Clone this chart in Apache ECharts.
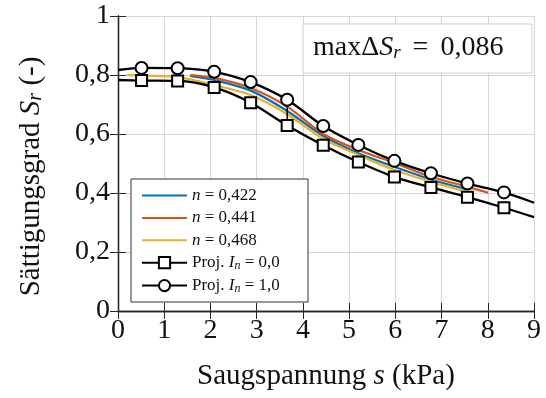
<!DOCTYPE html>
<html>
<head>
<meta charset="utf-8">
<script src="https://cdn.jsdelivr.net/npm/echarts@6/dist/echarts.min.js"></script>
<style>
html,body{margin:0;padding:0;background:#fff;}
#chart{width:546px;height:398px;}
</style>
</head>
<body>
<div id="chart"></div>
<script>
// ---- data ----
const xTicks = [0, 1, 2, 3, 4, 5, 6, 7, 8, 9];
const yTicks = [0, 0.2, 0.4, 0.6, 0.8, 1];

const seriesNames = ['n = 0,422', 'n = 0,441', 'n = 0,468', 'Proj. In = 0,0', 'Proj. In = 1,0'];
const legendRich = ['{i|n} = 0,422', '{i|n} = 0,441', '{i|n} = 0,468', 'Proj. {i|I}{sub|n} = 0,0', 'Proj. {i|I}{sub|n} = 1,0'];

const blueX = [1.56, 2.08, 2.87, 3.66, 4.44, 5.20, 5.98, 6.77, 7.50];
const blueY = [0.797, 0.783, 0.747, 0.678, 0.593, 0.535, 0.489, 0.446, 0.415];

const redX = [1.56, 2.08, 2.87, 3.66, 4.44, 5.20, 5.98, 6.77, 7.56, 8.01];
const redY = [0.800, 0.790, 0.756, 0.693, 0.600, 0.546, 0.502, 0.455, 0.421, 0.401];

const yellowX = [0.19, 0.51, 1.29, 2.08, 2.87, 3.66, 4.44, 5.20, 5.98, 6.77, 7.50];
const yellowY = [0.800, 0.798, 0.793, 0.766, 0.732, 0.667, 0.583, 0.529, 0.478, 0.438, 0.406];

const projX = [0, 0.51, 1.29, 2.08, 2.87, 3.66, 4.44, 5.20, 5.98, 6.77, 7.56, 8.35, 9];
const proj0Y = [0.783, 0.781, 0.780, 0.758, 0.706, 0.629, 0.562, 0.505, 0.454, 0.419, 0.386, 0.350, 0.318];
const proj1Y = [0.817, 0.824, 0.823, 0.811, 0.776, 0.716, 0.627, 0.563, 0.509, 0.467, 0.432, 0.402, 0.367];

const maxDeltaX = [3.66, 3.66];
const maxDeltaY = [0.629, 0.716];
const annotation = 'max{d|Δ}{i|S}{sub|r}{eq| = }0,086';

const xName = 'Saugspannung {i|s} (kPa)';
const yName = 'Sättigungsgrad {i|S}{sub|r} (-)';

// ---- build ----
const FONT = '"Liberation Serif", "Times New Roman", serif';
const colors = ['#0072BD', '#D95319', '#EDB120'];
function pairs(xs, ys) { return xs.map((x, i) => [x, ys[i]]); }
function projData(xs, ys) {
  return xs.map((x, i) => {
    const item = { value: [x, ys[i]] };
    if (i === 0 || i === xs.length - 1) item.symbol = 'none';
    return item;
  });
}

const axisLineStyle = { color: '#262626', width: 1.3 };
const tickStyle = { show: true, inside: true, length: 8, lineStyle: { color: '#262626', width: 1 } };

const chart = echarts.init(document.getElementById('chart'), null, { renderer: 'canvas' });
const option = {
  backgroundColor: '#fff',
  animation: false,
  textStyle: { fontFamily: FONT },
  grid: { left: 118, right: 12, top: 16, bottom: 87, containLabel: false },
  xAxis: [{
    type: 'value', min: xTicks[0], max: xTicks[xTicks.length - 1], interval: 1,
    position: 'bottom',
    axisLine: { show: true, lineStyle: axisLineStyle },
    axisTick: tickStyle,
    splitLine: { show: true, lineStyle: { color: '#d6d6d6', width: 1 } },
    axisLabel: { fontFamily: FONT, fontSize: 28, color: '#111', margin: 6 },
    name: xName, nameLocation: 'middle', nameGap: 51,
    nameTextStyle: { fontFamily: FONT, fontSize: 29, color: '#111',
      rich: { i: { fontFamily: FONT, fontStyle: 'italic', fontSize: 29, color: '#111' } } }
  }, {
    type: 'value', min: xTicks[0], max: xTicks[xTicks.length - 1], interval: 1,
    position: 'top', z: 3,
    axisLine: { show: true, lineStyle: axisLineStyle },
    axisTick: tickStyle, axisLabel: { show: false }, splitLine: { show: false }
  }],
  yAxis: [{
    type: 'value', min: yTicks[0], max: yTicks[yTicks.length - 1], interval: 0.2,
    position: 'left',
    axisLine: { show: true, lineStyle: axisLineStyle },
    axisTick: tickStyle,
    splitLine: { show: true, lineStyle: { color: '#d6d6d6', width: 1 } },
    axisLabel: { fontFamily: FONT, fontSize: 28, color: '#111', margin: 8,
      formatter: v => String(Math.round(v * 10) / 10).replace('.', ',') },
    name: yName, nameLocation: 'middle', nameGap: 72,
    nameTextStyle: { fontFamily: FONT, fontSize: 29, color: '#111', padding: [0, 26, 0, 0],
      rich: {
        i: { fontFamily: FONT, fontStyle: 'italic', fontSize: 29, color: '#111' },
        sub: { fontFamily: FONT, fontStyle: 'italic', fontSize: 20, color: '#111', padding: [8, 0, 0, 0] }
      } }
  }, {
    type: 'value', min: yTicks[0], max: yTicks[yTicks.length - 1], interval: 0.2,
    position: 'right', z: 3,
    axisLine: { show: true, lineStyle: axisLineStyle },
    axisTick: tickStyle, axisLabel: { show: false }, splitLine: { show: false }
  }],
  legend: {
    orient: 'vertical', left: 141, top: 187, padding: 0, z: 60,
    itemWidth: 45, itemHeight: 14, itemGap: 5.4,
    data: seriesNames.map((n, i) => i < 3 ? { name: n, itemStyle: { opacity: 0 } } : { name: n }),
    formatter: name => legendRich[seriesNames.indexOf(name)],
    textStyle: { fontFamily: FONT, fontSize: 17, color: '#111',
      rich: {
        i: { fontFamily: FONT, fontStyle: 'italic', fontSize: 17, color: '#111' },
        sub: { fontFamily: FONT, fontStyle: 'italic', fontSize: 12, color: '#111', padding: [6, 0, 0, 0] }
      } }
  },
  graphic: [
    { type: 'rect', z: 1, shape: { x: 131, y: 179, width: 177, height: 123 },
      style: { fill: '#fff', stroke: '#333', lineWidth: 1 } },
    { type: 'rect', z: 1, shape: { x: 303, y: 24, width: 229, height: 49 },
      style: { fill: '#fff', stroke: '#cfcfcf', lineWidth: 1 } },
    { type: 'text', z: 2, x: 313, y: 48,
      style: { text: annotation, fontFamily: FONT, fontSize: 28, fill: '#111', verticalAlign: 'middle',
        rich: {
          d: { fontFamily: FONT, fontSize: 28, fill: '#111' },
          i: { fontFamily: FONT, fontStyle: 'italic', fontSize: 28, fill: '#111' },
          sub: { fontFamily: FONT, fontStyle: 'italic', fontSize: 19, fill: '#111', padding: [9, 0, 0, 0] },
          eq: { fontFamily: FONT, fontSize: 28, fill: '#111', padding: [0, 5, 0, 5] }
        } } }
  ],
  series: [
    { name: seriesNames[0], type: 'line', data: pairs(blueX, blueY), smooth: 0.3, showSymbol: false, symbol: 'none',
      lineStyle: { color: colors[0], width: 2.2 }, itemStyle: { color: colors[0] }, z: 2 },
    { name: seriesNames[1], type: 'line', data: pairs(redX, redY), smooth: 0.3, showSymbol: false, symbol: 'none',
      lineStyle: { color: colors[1], width: 2.2 }, itemStyle: { color: colors[1] }, z: 2 },
    { name: seriesNames[2], type: 'line', data: pairs(yellowX, yellowY), smooth: 0.3, showSymbol: false, symbol: 'none',
      lineStyle: { color: colors[2], width: 2.2 }, itemStyle: { color: colors[2] }, z: 2 },
    { name: seriesNames[3], type: 'line', data: projData(projX, proj0Y), smooth: 0.3,
      symbol: 'rect', symbolSize: 11, showAllSymbol: true,
      lineStyle: { color: '#000', width: 2.3 }, itemStyle: { color: '#fff', borderColor: '#000', borderWidth: 2 }, z: 3 },
    { name: seriesNames[4], type: 'line', data: projData(projX, proj1Y), smooth: 0.3,
      symbol: 'circle', symbolSize: 12, showAllSymbol: true,
      lineStyle: { color: '#000', width: 2.3 }, itemStyle: { color: '#fff', borderColor: '#000', borderWidth: 2 }, z: 3 },
    { type: 'line', data: pairs(maxDeltaX, maxDeltaY), symbol: 'none',
      lineStyle: { color: '#000', width: 1.5 }, z: 3, silent: true }
  ]
};
chart.setOption(option);
</script>
</body>
</html>
